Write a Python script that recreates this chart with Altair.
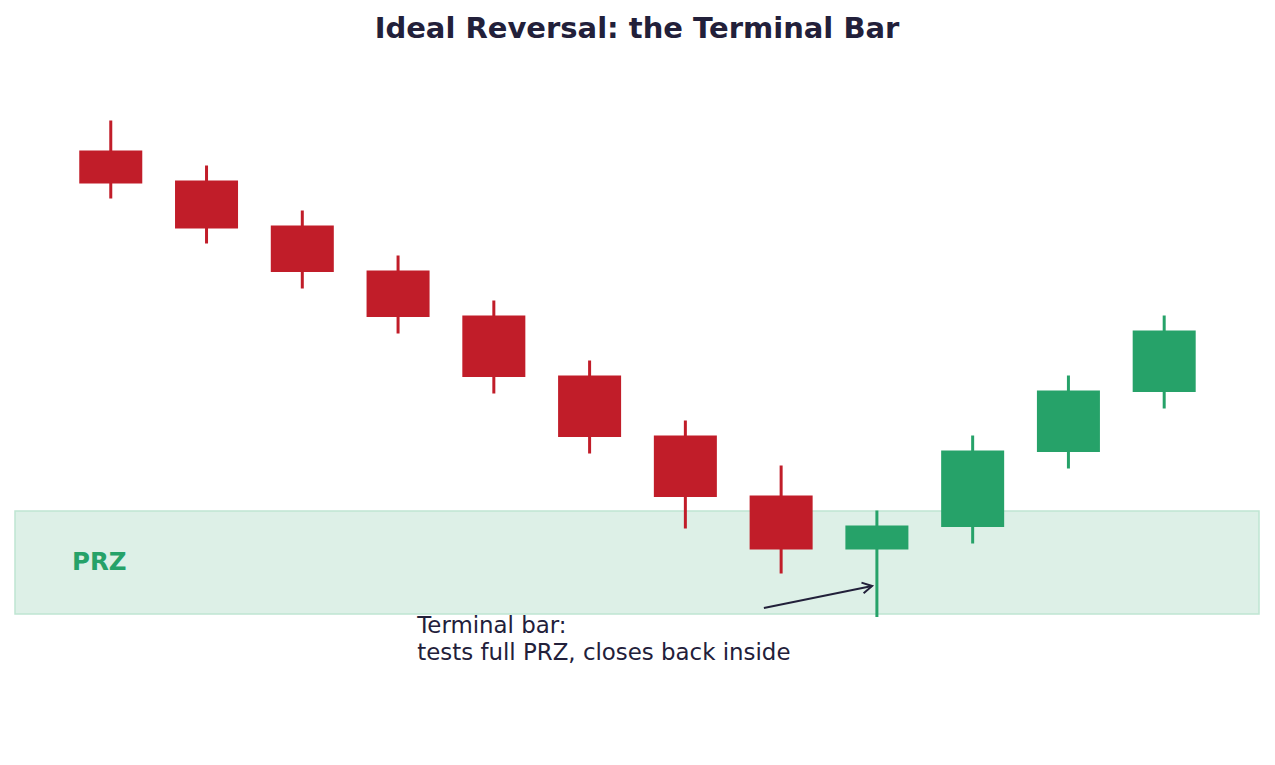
import altair as alt
import pandas as pd

# Candle data (index, open, high, low, close)
idx = [0, 1, 2, 3, 4, 5, 6, 7, 8, 9, 10, 11]
opens = [39.3, 37.3, 34.3, 31.3, 28.3, 24.3, 20.3, 16.3, 12.7, 14.2, 19.2, 23.2]
highs = [41.3, 38.3, 35.3, 32.3, 29.3, 25.3, 21.3, 18.3, 15.3, 20.3, 24.3, 28.3]
lows = [36.1, 33.1, 30.1, 27.1, 23.1, 19.1, 14.1, 11.1, 8.2, 13.1, 18.1, 22.1]
closes = [37.1, 34.1, 31.2, 28.2, 24.2, 20.2, 16.2, 12.7, 14.3, 19.3, 23.3, 27.3]

prz_low = 8.4
prz_high = 15.27
x_min, x_max = -1.0, 11.99
y_min, y_max = 0.0, 45.0

arrow_x = [6.82, 7.95]
arrow_y = [8.8, 10.27]
note_x = 3.2
note_y = 7.13
note_text = ["Terminal bar:", "tests full PRZ, closes back inside"]
prz_label_x = -0.12
prz_label_y = 11.83

RED = "#C11D29"
GREEN = "#26A269"

df = pd.DataFrame({"i": idx, "open": opens, "high": highs, "low": lows, "close": closes})
df["dir"] = ["up" if c >= o else "down" for o, c in zip(opens, closes)]

xs = alt.Scale(domain=[x_min, x_max], nice=False, zero=False)
ys = alt.Scale(domain=[y_min, y_max], nice=False, zero=False)
col = alt.Color("dir:N", scale=alt.Scale(domain=["up", "down"], range=[GREEN, RED]), legend=None)

band = alt.Chart(pd.DataFrame({"x": [x_min], "x2": [x_max], "y": [prz_low], "y2": [prz_high]})).mark_rect(
    fill="#DDF0E7", stroke="#BFE5D2", strokeWidth=1.5
).encode(
    x=alt.X("x:Q", scale=xs, axis=None), x2="x2:Q",
    y=alt.Y("y:Q", scale=ys, axis=None), y2="y2:Q",
)

prz_label = alt.Chart(pd.DataFrame({"x": [prz_label_x], "y": [prz_label_y], "t": ["PRZ"]})).mark_text(
    font="DejaVu Sans", fontWeight="bold", fontSize=24.5, color=GREEN, align="center", baseline="middle"
).encode(x=alt.X("x:Q", scale=xs, axis=None), y=alt.Y("y:Q", scale=ys, axis=None), text="t:N")

wicks = alt.Chart(df).mark_rule(strokeWidth=3).encode(
    x=alt.X("i:Q", scale=xs, axis=None),
    y=alt.Y("low:Q", scale=ys, axis=None), y2="high:Q",
    color=col,
)

bodies = alt.Chart(df).transform_calculate(
    xl="datum.i - 0.329", xr="datum.i + 0.329"
).mark_rect().encode(
    x=alt.X("xl:Q", scale=xs, axis=None), x2="xr:Q",
    y=alt.Y("open:Q", scale=ys, axis=None), y2="close:Q",
    color=col,
)

arrow_df = pd.DataFrame({"x": [arrow_x[0]], "y": [arrow_y[0]], "x2": [arrow_x[1]], "y2": [arrow_y[1]]})
arrow_line = alt.Chart(arrow_df).mark_rule(color="#22203A", strokeWidth=2).encode(
    x=alt.X("x:Q", scale=xs, axis=None), y=alt.Y("y:Q", scale=ys, axis=None), x2="x2:Q", y2="y2:Q"
)
arrow_head = alt.Chart(pd.DataFrame({"x": [arrow_x[1]], "y": [arrow_y[1]]})).mark_point(
    shape="M -1 -0.55 L 0 0 L -1 0.55", filled=False, stroke="#22203A", strokeWidth=2,
    size=380, angle=348.5, opacity=1
).encode(x=alt.X("x:Q", scale=xs, axis=None), y=alt.Y("y:Q", scale=ys, axis=None))

note = alt.Chart(pd.DataFrame({"x": [note_x], "y": [note_y], "t": [note_text]})).mark_text(
    font="DejaVu Sans", fontSize=22.9, color="#22203A", align="left", baseline="alphabetic", lineHeight=27
).encode(x=alt.X("x:Q", scale=xs, axis=None), y=alt.Y("y:Q", scale=ys, axis=None), text="t")

chart = alt.layer(band, prz_label, wicks, bodies, arrow_line, arrow_head, note).properties(
    width=1244, height=675,
    title=alt.TitleParams("Ideal Reversal: the Terminal Bar", font="DejaVu Sans", fontSize=29,
                          fontWeight="bold", color="#22203A", anchor="middle", offset=21.5),
    autosize=alt.AutoSizeParams(type="none"),
    padding={"left": 15, "top": 65, "right": 16, "bottom": 25},
    background="white",
).configure_view(stroke=None)

chart.save("out.html", embed_options={"renderer": "svg", "actions": False})
